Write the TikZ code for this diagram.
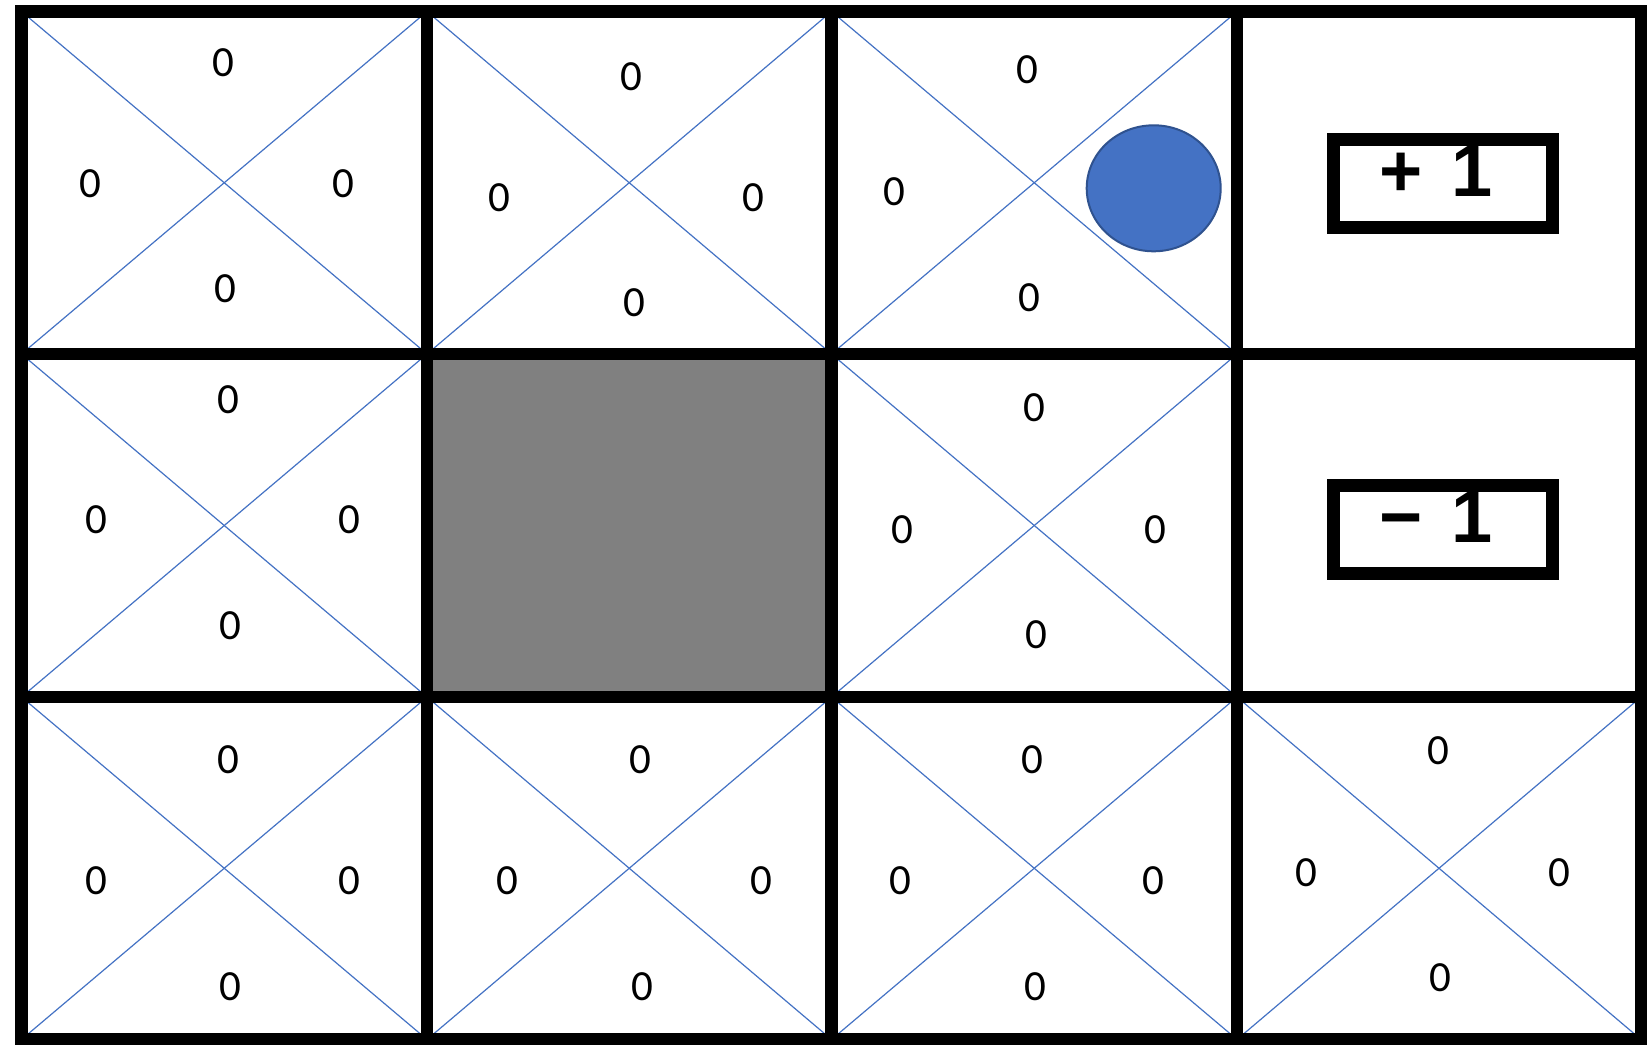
\documentclass[tikz,border=0pt]{standalone}
\usepackage{fontspec}
\setmainfont{Carlito}
\newfontfamily\arialfont{Liberation Sans}
\definecolor{cellblue}{HTML}{4472C4}
\definecolor{circedge}{HTML}{2F528F}
\definecolor{wallgray}{HTML}{808080}
\begin{document}
\begin{tikzpicture}[x=1pt,y=-1pt,
  val/.style={inner sep=0pt, font=\fontsize{43}{50}\selectfont},
  diag/.style={draw=cellblue, line width=1.2pt},
  wall/.style={draw=black, line width=12.5pt},
  rewardbox/.style={draw=black, line width=12.7pt},
  rewardtxt/.style={inner sep=0pt, font=\arialfont\bfseries\fontsize{74}{80}\selectfont}]
\useasboundingbox (0,0) rectangle (1651,1044);
\clip (0,0) rectangle (1651,1044);
\fill[white] (0,0) rectangle (1651,1044);
% grid points
\foreach \i/\x in {0/21.5,1/427,2/831.5,3/1237,4/1641}{
  \foreach \j/\y in {0/11.5,1/354,2/697,3/1039.5}{
    \coordinate (p-\i-\j) at (\x,\y);
  }
}
% obstacle
\fill[wallgray] (p-1-1) rectangle (p-2-2);
% diagonals
\foreach \c/\r [evaluate=\c as \cc using int(\c+1), evaluate=\r as \rr using int(\r+1)] in {0/0,1/0,2/0,0/1,2/1,0/2,1/2,2/2,3/2}{
  \draw[diag] (p-\c-\r) -- (p-\cc-\rr);
  \draw[diag] (p-\cc-\r) -- (p-\c-\rr);
}
% agent
\draw[fill=cellblue, draw=circedge, line width=2pt] (1153.7,188.3) ellipse [x radius=67, y radius=63];
% grid lines
\foreach \i in {1,2,3}{ \draw[wall] (p-\i-0) -- (p-\i-3); }
\foreach \j in {1,2}{ \draw[wall] (p-0-\j) -- (p-4-\j); }
\draw[wall] (p-0-0) rectangle (p-4-3);
% reward boxes
\draw[rewardbox] (1333.3,139.3) rectangle (1552.7,227.7);
\draw[rewardbox] (1333.3,485.3) rectangle (1552.7,573.7);
\node[rewardtxt] (plus) at (1436,170.8) {+\hspace{8pt} 1};
\node[rewardtxt] (minus) at (1436,517.5) {−\hspace{8pt} 1};
% values
\foreach \n/\x/\y in {
 a1/223.3/62.2, a2/90.3/183.7, a3/343.7/183.7, a4/225/288.8,
 b1/631.7/77, b2/499.7/198, b3/753/198, b4/634/303,
 c1/1027/69.7, c2/894.7/192, c4/1029/298,
 d1/228.3/399.2, d2/96/520, d3/349/520, d4/230.3/625.3,
 e1/1034.3/408, e2/902.3/529.2, e3/1155.7/529.2, e4/1036.7/634.7,
 f1/228.3/759.5, f2/96/880.3, f3/349.3/880.3, f4/230.3/987,
 g1/640/759.5, g2/507.7/880.3, g3/761/880.3, g4/642.3/987,
 h1/1032.7/759.5, h2/900.7/880.3, h3/1153.3/880.3, h4/1035/987,
 k1/1438.3/750.5, k2/1306.3/872.2, k3/1559/872.2, k4/1440/977.2}{
  \node[val] (v-\n) at (\x,\y) {0};
}
\end{tikzpicture}
\end{document}
